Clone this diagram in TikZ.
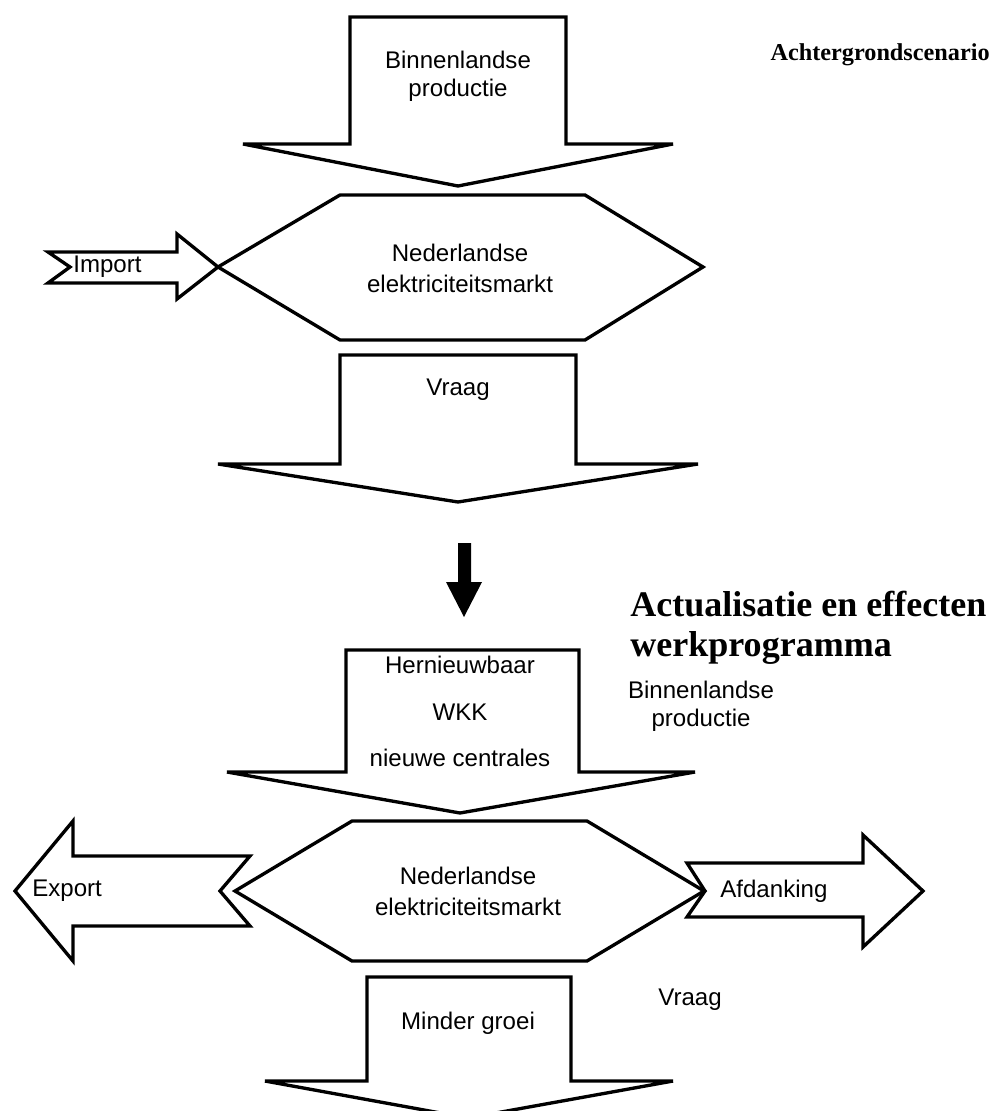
\documentclass[tikz,border=0pt]{standalone}
\usepackage{fontspec}
\setmainfont{Liberation Sans}
\newfontfamily\titlefont{Liberation Serif}

\begin{document}
\begin{tikzpicture}[x=0.02cm, y=-0.02cm,
  blockarrow/.style={line width=1.9pt, line join=miter},
  lbl/.style={font=\fontsize{13.7}{16}\selectfont, align=center, inner sep=0pt},
  marktlbl/.style={font=\fontsize{13.7}{17.6}\selectfont, align=center, inner sep=0pt},
  titlelbl/.style={font=\titlefont\bfseries, align=left, anchor=west, inner sep=0pt}]

\useasboundingbox (0,0) rectangle (995,1111);

% achtergrondscenario
\draw[blockarrow] (350,17) -- (566,17) -- (566,144) -- (673,144) -- (458,186)
  -- (243,144) -- (350,144) -- cycle;
\draw[blockarrow] (218,267) -- (340,195) -- (585,195) -- (703,267) -- (585,340)
  -- (340,340) -- cycle;
\draw[blockarrow] (48,252) -- (177,252) -- (177,234) -- (218,267) -- (177,299)
  -- (177,283) -- (48,283) -- (70,267) -- cycle;
\draw[blockarrow] (340,355) -- (576,355) -- (576,464) -- (698,464) -- (458,502)
  -- (218,464) -- (340,464) -- cycle;

\node[lbl] (prod1) at (458,76) {Binnenlandse\\productie};
\node[titlelbl, anchor=east, font=\titlefont\bfseries\fontsize{13.8}{16}\selectfont] (titel1) at (990,55) {Achtergrondscenario};
\node[marktlbl] (markt1) at (460,268) {Nederlandse\\elektriciteitsmarkt};
\node[lbl, anchor=west] (import) at (73,267) {Import};
\node[lbl] (vraag1) at (458,390) {Vraag};

% overgang
\fill (458,543) -- (471,543) -- (471,582) -- (482,582) -- (464,617) -- (446,582)
  -- (458,582) -- cycle;

% actualisatie
\node[titlelbl, font=\titlefont\bfseries\fontsize{20.5}{22.8}\selectfont] (titel2) at (630,628)
  {Actualisatie en effecten\\werkprogramma};

\draw[blockarrow] (346,650) -- (579,650) -- (579,772) -- (695,772) -- (460,813)
  -- (227,772) -- (346,772) -- cycle;
\draw[blockarrow] (235,891) -- (352,821) -- (587,821) -- (704,891) -- (587,961)
  -- (352,961) -- cycle;
\draw[blockarrow] (15,891) -- (73,821) -- (73,856) -- (250,856) -- (220,891)
  -- (250,926) -- (73,926) -- (73,961) -- cycle;
\draw[blockarrow] (687,863) -- (863,863) -- (863,835) -- (923,891) -- (863,947)
  -- (863,917) -- (687,917) -- (705,891) -- cycle;
\draw[blockarrow] (367,977) -- (571,977) -- (571,1081) -- (673,1081) -- (468,1118)
  -- (265,1081) -- (367,1081) -- cycle;

\node[lbl] (hernieuw) at (460,665) {Hernieuwbaar};
\node[lbl] (wkk) at (460,712) {WKK};
\node[lbl] (centrales) at (460,758) {nieuwe centrales};
\node[lbl] (prod2) at (701,706) {Binnenlandse\\productie};
\node[marktlbl] (markt2) at (468,891) {Nederlandse\\elektriciteitsmarkt};
\node[lbl, anchor=west] (export) at (32,891) {Export};
\node[lbl, anchor=west] (afdanking) at (720,891) {Afdanking};
\node[lbl] (vraag2) at (690,1000) {Vraag};
\node[lbl] (groei) at (468,1023) {Minder groei};
\end{tikzpicture}
\end{document}
